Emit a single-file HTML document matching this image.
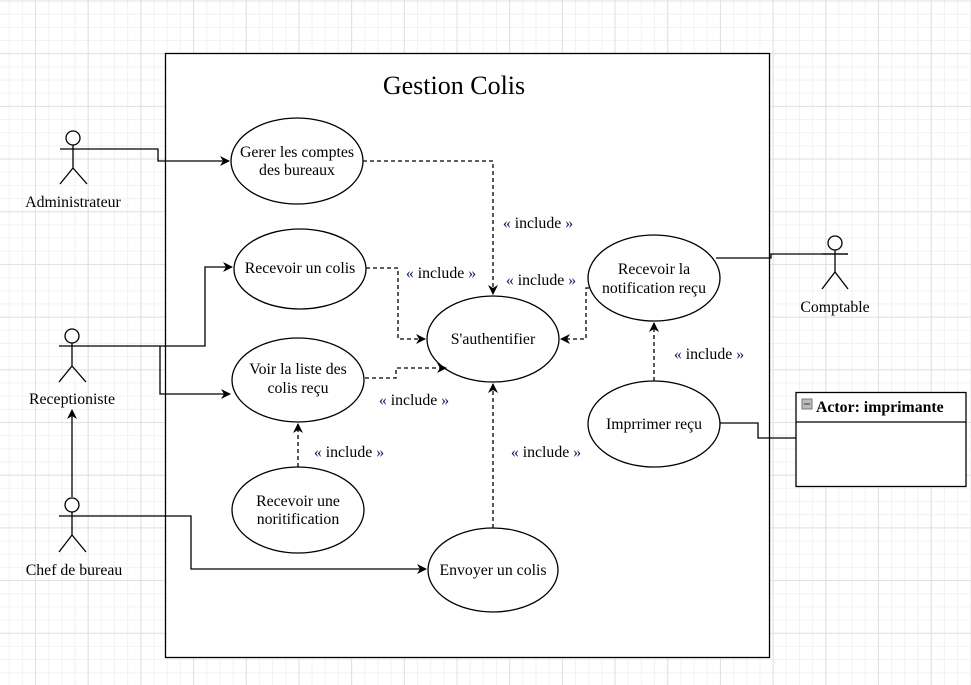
<!DOCTYPE html>
<html><head><meta charset="utf-8"><style>
html,body{margin:0;padding:0;}
body{width:971px;height:685px;overflow:hidden;background-color:#fff;
background-image:
linear-gradient(#e0e0e0 1px,transparent 1px),
linear-gradient(90deg,#e0e0e0 1px,transparent 1px),
linear-gradient(#f2f2f2 1px,transparent 1px),
linear-gradient(90deg,#f2f2f2 1px,transparent 1px);
background-size:52.7px 52.7px,52.7px 52.7px,13.175px 13.175px,13.175px 13.175px;
background-position:0 0.5px,35px 0,0 0.5px,35px 0;}
svg{position:absolute;left:0;top:0;}
text{font-family:"Liberation Serif",serif;font-size:15.8px;fill:#000;}
.i{fill:#0a1a5a;}
</style></head><body>
<svg width="971" height="685" viewBox="0 0 971 685">
<defs><marker id="a" viewBox="0 0 10 10" refX="9" refY="5" markerWidth="10" markerHeight="10" markerUnits="userSpaceOnUse" orient="auto"><path d="M0,0 L10,5 L0,10 L3,5 Z" fill="#000"/></marker></defs>
<rect x="165.5" y="53.5" width="604" height="604" fill="#fff" stroke="#000" stroke-width="1.3"/>
<text x="454" y="94" text-anchor="middle" style="font-size:26px">Gestion Colis</text>
<g fill="#fff" stroke="#000" stroke-width="1.3">
<ellipse cx="297" cy="161" rx="66" ry="43"/>
<ellipse cx="300" cy="269" rx="66" ry="40"/>
<ellipse cx="298" cy="380" rx="66" ry="42"/>
<ellipse cx="298" cy="510" rx="66" ry="43"/>
<ellipse cx="493" cy="339" rx="66" ry="43"/>
<ellipse cx="493" cy="570" rx="65" ry="42"/>
<ellipse cx="654" cy="278" rx="66" ry="43"/>
<ellipse cx="654" cy="424" rx="66" ry="43"/>
</g>
<g text-anchor="middle">
<text x="297" y="157">Gerer les comptes</text><text x="297" y="175">des bureaux</text>
<text x="300" y="273">Recevoir un colis</text>
<text x="298" y="374">Voir la liste des</text><text x="298" y="393">colis reçu</text>
<text x="298" y="506">Recevoir une</text><text x="298" y="524">noritification</text>
<text x="493" y="344">S'authentifier</text>
<text x="493" y="575">Envoyer un colis</text>
<text x="654" y="274">Recevoir la</text><text x="654" y="293">notification reçu</text>
<text x="654" y="429">Imprrimer reçu</text>
</g>
<g stroke="#000" stroke-width="1.3" fill="none">
<circle cx="73" cy="138" r="7" fill="#fff"/><path d="M73,145V168M60,149H87M60,184L73,168L87,184"/>
<circle cx="72" cy="336" r="7" fill="#fff"/><path d="M72,343V366M59,346H86M59,382L72,366L86,382"/>
<circle cx="72" cy="505" r="7" fill="#fff"/><path d="M72,512V535M59,516H86M59,552L72,535L86,552"/>
<circle cx="835" cy="243" r="7" fill="#fff"/><path d="M835,250V272M822,254H848M822,289L835,272L848,289"/>
<path d="M87,149H158V161H229" marker-end="url(#a)"/>
<path d="M86,346H205V267H232" marker-end="url(#a)"/>
<path d="M160,346V394H230" marker-end="url(#a)"/>
<path d="M86,516H191V569H426" marker-end="url(#a)"/>
<path d="M72,497V410" marker-end="url(#a)"/>
<path d="M716,258H771V254H848"/>
<path d="M720,423H758V438H796"/>
<g stroke-dasharray="4,3">
<path d="M363,161H493V294" marker-end="url(#a)"/>
<path d="M366,268H398V339H425" marker-end="url(#a)"/>
<path d="M365,378H396V368H446" marker-end="url(#a)"/>
<path d="M298,467V424" marker-end="url(#a)"/>
<path d="M493,528V384" marker-end="url(#a)"/>
<path d="M589,288H586V339H561" marker-end="url(#a)"/>
<path d="M654,381V323" marker-end="url(#a)"/>
</g>
</g>
<g text-anchor="middle">
<text x="538" y="228"><tspan class="i">«</tspan> include <tspan class="i">»</tspan></text>
<text x="441" y="278"><tspan class="i">«</tspan> include <tspan class="i">»</tspan></text>
<text x="541" y="285"><tspan class="i">«</tspan> include <tspan class="i">»</tspan></text>
<text x="414" y="405"><tspan class="i">«</tspan> include <tspan class="i">»</tspan></text>
<text x="349" y="457"><tspan class="i">«</tspan> include <tspan class="i">»</tspan></text>
<text x="546" y="457"><tspan class="i">«</tspan> include <tspan class="i">»</tspan></text>
<text x="709" y="359"><tspan class="i">«</tspan> include <tspan class="i">»</tspan></text>
<text x="73" y="207">Administrateur</text>
<text x="72" y="404">Receptioniste</text>
<text x="74" y="575">Chef de bureau</text>
<text x="835" y="312">Comptable</text>
</g>
<rect x="796" y="392.5" width="170" height="94" fill="#fff" stroke="#000" stroke-width="1.3"/>
<line x1="796" y1="422" x2="966" y2="422" stroke="#000" stroke-width="1.3"/>
<rect x="802" y="399" width="10" height="10" fill="#bbb" stroke="#777"/>
<line x1="804" y1="404" x2="810" y2="404" stroke="#333"/>
<text x="816" y="412" style="font-weight:bold">Actor: imprimante</text>
</svg>
</body></html>
